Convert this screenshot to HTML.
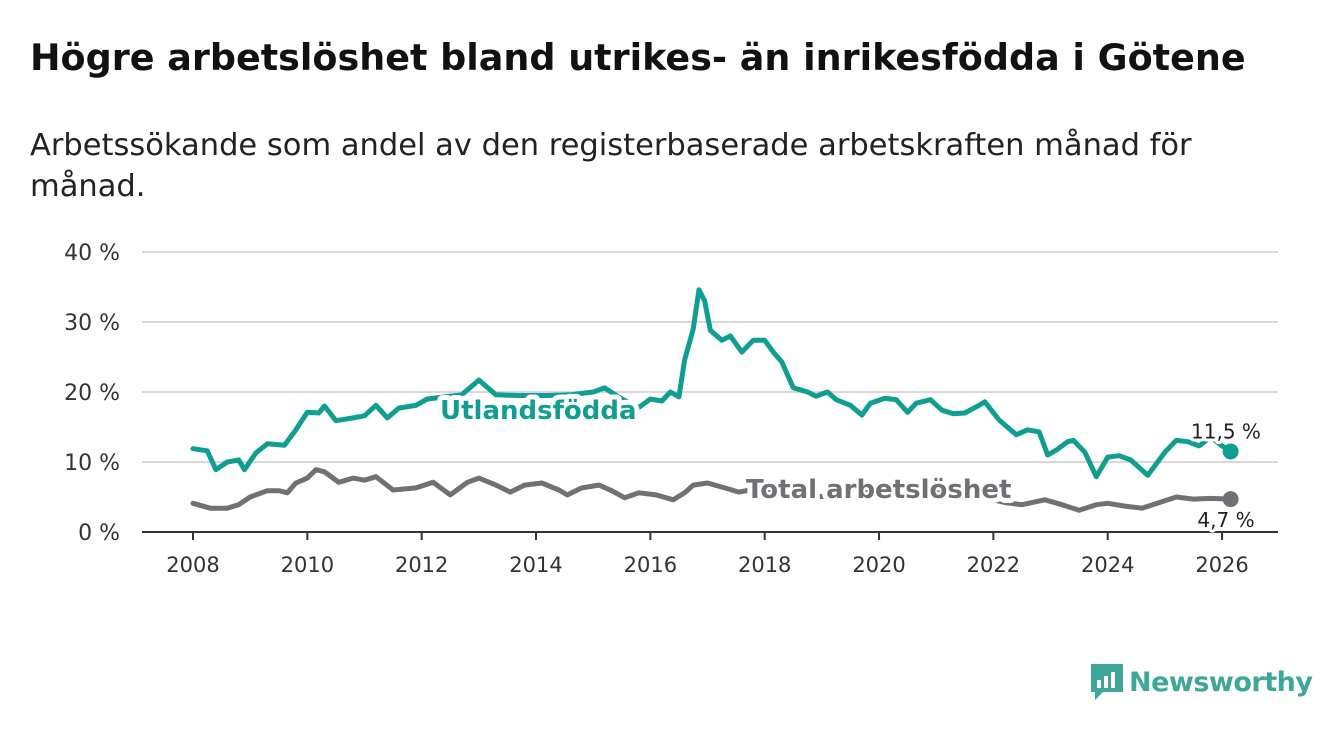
<!DOCTYPE html>
<html><head><meta charset="utf-8">
<style>
body{margin:0;width:1340px;height:734px;background:#fff;font-family:"DejaVu Sans","Liberation Sans",sans-serif;overflow:hidden;position:relative}
h1{position:absolute;left:30px;top:36px;margin:0;font-size:36.5px;font-weight:bold;color:#111;white-space:nowrap}
.sub{position:absolute;left:30px;top:125px;font-size:30.5px;line-height:41px;color:#222;width:1230px}
svg{position:absolute;left:0;top:0}
</style></head><body>
<h1>Högre arbetslöshet bland utrikes- än inrikesfödda i Götene</h1>
<div class="sub">Arbetssökande som andel av den registerbaserade arbetskraften månad för månad.</div>
<svg id="c" width="1340" height="734"></svg>
<script>
const yTicks=[0,10,20,30,40];
const xTicks=[2008,2010,2012,2014,2016,2018,2020,2022,2024,2026];
const utlDates=[2008.0,2008.25,2008.4,2008.6,2008.8,2008.9,2009.1,2009.3,2009.6,2009.8,2010.0,2010.2,2010.3,2010.5,2010.8,2011.0,2011.2,2011.4,2011.6,2011.9,2012.1,2012.4,2012.7,2013.0,2013.3,2013.7,2014.2,2014.6,2015.0,2015.2,2015.5,2015.8,2016.0,2016.2,2016.35,2016.5,2016.6,2016.75,2016.85,2016.95,2017.05,2017.25,2017.4,2017.6,2017.8,2018.0,2018.15,2018.3,2018.5,2018.75,2018.9,2019.1,2019.25,2019.5,2019.7,2019.85,2020.1,2020.3,2020.5,2020.65,2020.9,2021.1,2021.3,2021.5,2021.75,2021.85,2022.1,2022.4,2022.6,2022.8,2022.95,2023.1,2023.3,2023.4,2023.6,2023.8,2024.0,2024.2,2024.4,2024.7,2025.0,2025.2,2025.4,2025.6,2025.8,2026.0,2026.15];
const utlValues=[11.9,11.6,8.9,10,10.3,8.9,11.3,12.6,12.4,14.6,17.1,17,18,15.9,16.3,16.6,18.1,16.3,17.7,18.1,19,19.3,19.6,21.7,19.6,19.5,19.5,19.6,20,20.6,19,17.8,19,18.7,20,19.3,24.6,29,34.6,33,28.8,27.4,28,25.7,27.4,27.4,25.7,24.3,20.6,20,19.4,20,18.9,18.1,16.7,18.4,19.1,18.9,17.1,18.4,18.9,17.4,16.9,17,18.1,18.6,16,13.9,14.6,14.3,11,11.7,12.9,13.1,11.4,7.9,10.7,10.9,10.3,8.1,11.4,13.1,12.9,12.3,13.6,12.3,11.5];
const totDates=[2008.0,2008.3,2008.6,2008.8,2009.0,2009.3,2009.5,2009.65,2009.8,2010.0,2010.15,2010.3,2010.55,2010.8,2011.0,2011.2,2011.5,2011.9,2012.2,2012.5,2012.8,2013.0,2013.3,2013.55,2013.8,2014.1,2014.4,2014.55,2014.8,2015.1,2015.3,2015.55,2015.8,2016.1,2016.4,2016.6,2016.75,2017.0,2017.3,2017.55,2017.75,2018.2,2018.8,2019.4,2020.0,2020.6,2021.2,2021.8,2022.2,2022.5,2022.9,2023.2,2023.5,2023.8,2024.0,2024.3,2024.6,2024.9,2025.2,2025.5,2025.8,2026.15];
const totValues=[4.1,3.4,3.4,3.9,5,5.9,5.9,5.6,7,7.7,8.9,8.6,7.1,7.7,7.4,7.9,6,6.3,7.1,5.3,7.1,7.7,6.7,5.7,6.7,7,6,5.3,6.3,6.7,6,4.9,5.6,5.3,4.6,5.6,6.7,7,6.3,5.7,6,5.5,5,5.2,6,5.8,5.5,5,4.2,3.9,4.6,3.9,3.1,3.9,4.1,3.7,3.4,4.2,5,4.7,4.8,4.7];
const NS="http://www.w3.org/2000/svg";
const svg=document.getElementById('c');
const X=d=>193+(d-2008)*57.17;
const Y=v=>532-v*7;
function mk(t,a,p){const e=document.createElementNS(NS,t);for(const k in a)e.setAttribute(k,a[k]);(p||svg).appendChild(e);return e;}
yTicks.forEach(v=>{
  if(v>0){const g=mk('line',{x1:142,x2:1278,y1:Y(v),y2:Y(v),stroke:'#d9d9d9','stroke-width':2});
  
  }
  const t=mk('text',{x:120,y:Y(v)+8,'text-anchor':'end','font-size':22,fill:'#333'});
  t.textContent=v+' %';
  
  
});
const ax=mk('line',{x1:142,x2:1278,y1:532,y2:532,stroke:'#333','stroke-width':2});


xTicks.forEach(y=>{
  const tk=mk('line',{x1:X(y),x2:X(y),y1:532,y2:540,stroke:'#333','stroke-width':2});
  
  
  const t=mk('text',{x:X(y),y:572,'text-anchor':'middle','font-size':21,fill:'#333'});
  t.textContent=y;
  
  
});
function line(ds,vs,col,name){
  const p=mk('polyline',{points:ds.map((d,i)=>X(d)+','+Y(vs[i])).join(' '),fill:'none',stroke:col,'stroke-width':5,'stroke-linejoin':'round','stroke-linecap':'round'});
  
  
  const n=ds.length-1;
  const c=mk('circle',{cx:X(ds[n]),cy:Y(vs[n]),r:8,fill:col});
  
  
}
line(totDates,totValues,'#707075','total-line');
line(utlDates,utlValues,'#0f9e91','utlandsfodda-line');
function lbl(x,y,txt,col,size,bold,anchor,name){
  const t=mk('text',{x:x,y:y,'font-size':size,'font-weight':bold?'bold':'normal',fill:col,'text-anchor':anchor||'start',stroke:'#fff','stroke-width':bold?10:6,'paint-order':'stroke','stroke-linejoin':'round'});
  t.textContent=txt;
  
  
}
lbl(440,419,'Utlandsfödda','#0f9e91',26,true,'start','series-label-utlandsfodda');
lbl(746,498,'Total arbetslöshet','#707075',26,true,'start','series-label-total');
const n1=utlValues.length-1,n2=totValues.length-1;
lbl(1226,Y(utlValues[n1])-13,'11,5 %','#222',20,false,'middle','end-value-utlandsfodda');
lbl(1226,Y(totValues[n2])+28,'4,7 %','#222',20,false,'middle','end-value-total');
</script>
<div style="position:absolute;left:1089px;top:662px;display:flex;align-items:center">
<svg width="36" height="40" style="position:static" viewBox="0 0 36 40"><path d="M2 2h32v28H14l-8 8v-8H2z" fill="#3fa797"/><rect x="8" y="18" width="4" height="8" fill="#fff"/><rect x="15" y="14" width="4" height="12" fill="#fff"/><rect x="22" y="10" width="4" height="16" fill="#fff"/></svg>
<span style="font-size:27px;font-weight:bold;color:#3fa797;margin-left:4px;letter-spacing:-0.5px">Newsworthy</span></div>
</body></html>
